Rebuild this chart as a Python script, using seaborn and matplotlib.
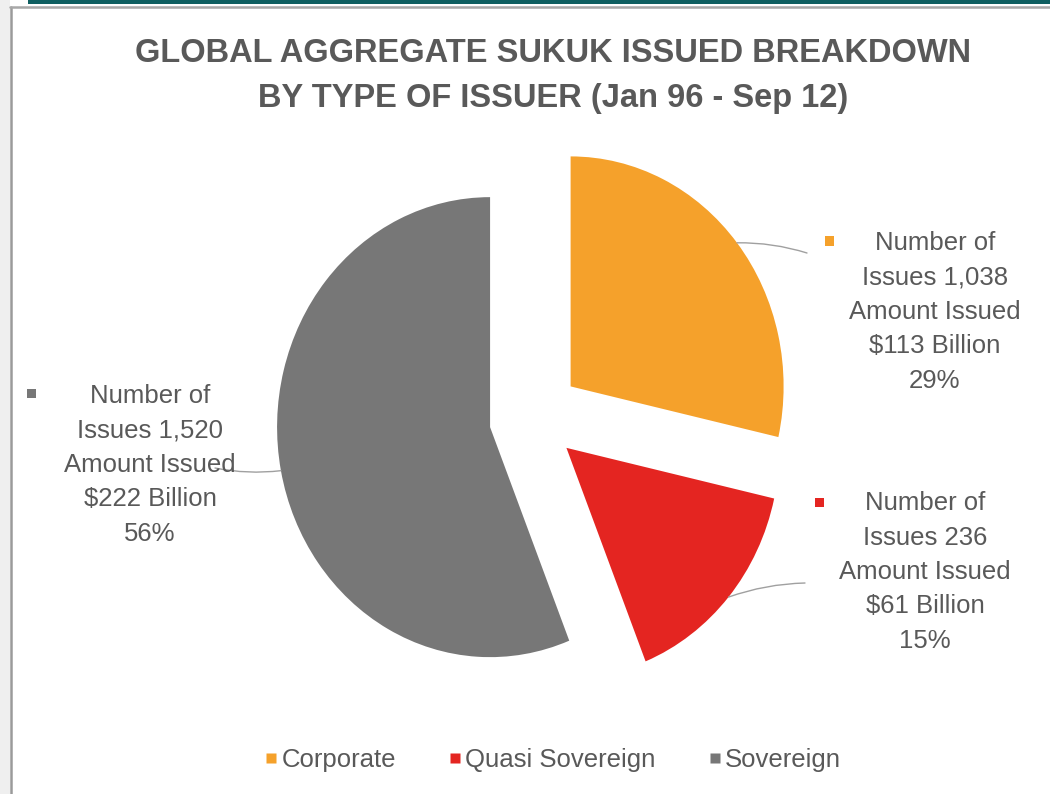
import matplotlib
matplotlib.use("Agg")
import matplotlib.pyplot as plt
from matplotlib.lines import Line2D
from matplotlib.patches import Rectangle
import numpy as np
import seaborn as sns

# Sukuk issuance by issuer type, Jan 1996 - Sep 2012
issuer_types = ["Corporate", "Quasi Sovereign", "Sovereign"]
amount_bn = [113, 61, 222]
share_pct = [29, 15, 56]
issue_counts = ["1,038", "236", "1,520"]
colors = ["#F5A12B", "#E42521", "#777777"]

sns.set_theme(style="white")
plt.rcParams["font.family"] = ["Liberation Sans", "DejaVu Sans"]
TEXT = "#595959"

W, H = 1050, 794
fig = plt.figure(figsize=(W / 100, H / 100), dpi=100)
fig.patch.set_facecolor("white")


def fy(y_down):
    """Figure pixel y measured from the top edge."""
    return H - y_down


# frame around the chart area
fig.add_artist(Rectangle((0, 0), 10 / W, 1, transform=fig.transFigure,
                         facecolor="#efefef", edgecolor="none", zorder=0))
fig.add_artist(Line2D([10.5 / W, 10.5 / W], [0, fy(7) / H], transform=fig.transFigure,
                      color="#9a9a9a", lw=1.8, zorder=1))
fig.add_artist(Line2D([10 / W, 1], [fy(7) / H, fy(7) / H], transform=fig.transFigure,
                      color="#a8a8a8", lw=1.8, zorder=1))
fig.add_artist(Rectangle((28 / W, fy(4) / H), 1, 4 / H, transform=fig.transFigure,
                         facecolor="#0f5f61", edgecolor="none", zorder=1))

# pie axes (slightly narrower than tall)
cx, cy = 534, 418
rx, ry = 213, 230
L = 1.6
aw, ah = 2 * L * rx, 2 * L * ry
ax = fig.add_axes([(cx - aw / 2) / W, (fy(cy) - ah / 2) / H, aw / W, ah / H])
explode = [0.22, 0.2, 0.21]
wedges, _ = ax.pie(amount_bn, colors=colors, explode=explode, startangle=90,
                   counterclock=False, wedgeprops=dict(linewidth=0))
ax.set_aspect("auto")
ax.set_xlim(-L, L)
ax.set_ylim(-L, L)
ax.axis("off")

# data labels with leader lines
label_pos = [(935, 312), (925, 572), (150, 465)]
key_pos = [(829, 241), (819, 502), (31, 393)]
line_end = [(807, 253), (805, 583), (215, 468)]
for w, n, amt, pct, col, (lx, ly), (kx, ky), (ex, ey) in zip(
        wedges, issue_counts, amount_bn, share_pct, colors, label_pos, key_pos, line_end):
    mid = np.deg2rad((w.theta1 + w.theta2) / 2)
    wx, wy = w.center
    start = (wx + w.r * np.cos(mid), wy + w.r * np.sin(mid))
    ax.annotate("", xy=start, xycoords="data", xytext=(ex, fy(ey)),
                textcoords="figure pixels",
                arrowprops=dict(arrowstyle="-", color="#a0a0a0", lw=1.0,
                                shrinkA=0, shrinkB=0,
                                connectionstyle="arc3,rad=0.08"))
    fig.text(lx / W, fy(ly) / H,
             f"Number of\nIssues {n}\nAmount Issued\n${amt} Billion\n{pct}%",
             ha="center", va="center", fontsize=18.5, color=TEXT, linespacing=1.55)
    fig.add_artist(Rectangle(((kx - 4.5) / W, fy(ky + 4.5) / H), 9 / W, 9 / H,
                             transform=fig.transFigure, facecolor=col,
                             edgecolor="none"))

# title
fig.text(553 / W, fy(53) / H, "GLOBAL AGGREGATE SUKUK ISSUED BREAKDOWN",
         ha="center", va="center", fontsize=23.5, fontweight="bold", color=TEXT)
fig.text(553 / W, fy(98) / H, "BY TYPE OF ISSUER (Jan 96 - Sep 12)",
         ha="center", va="center", fontsize=23.5, fontweight="bold", color=TEXT)

# legend
handles = [Line2D([], [], marker="s", linestyle="none", markersize=7,
                  markerfacecolor=c, markeredgecolor="none") for c in colors]
fig.legend(handles, issuer_types, loc="center", bbox_to_anchor=(553 / W, fy(760) / H),
           ncol=3, frameon=False, fontsize=18.5, handlelength=0.5,
           handletextpad=0.15, columnspacing=2.05, labelcolor=TEXT)

fig.savefig("out.png", dpi=100, facecolor="white")
